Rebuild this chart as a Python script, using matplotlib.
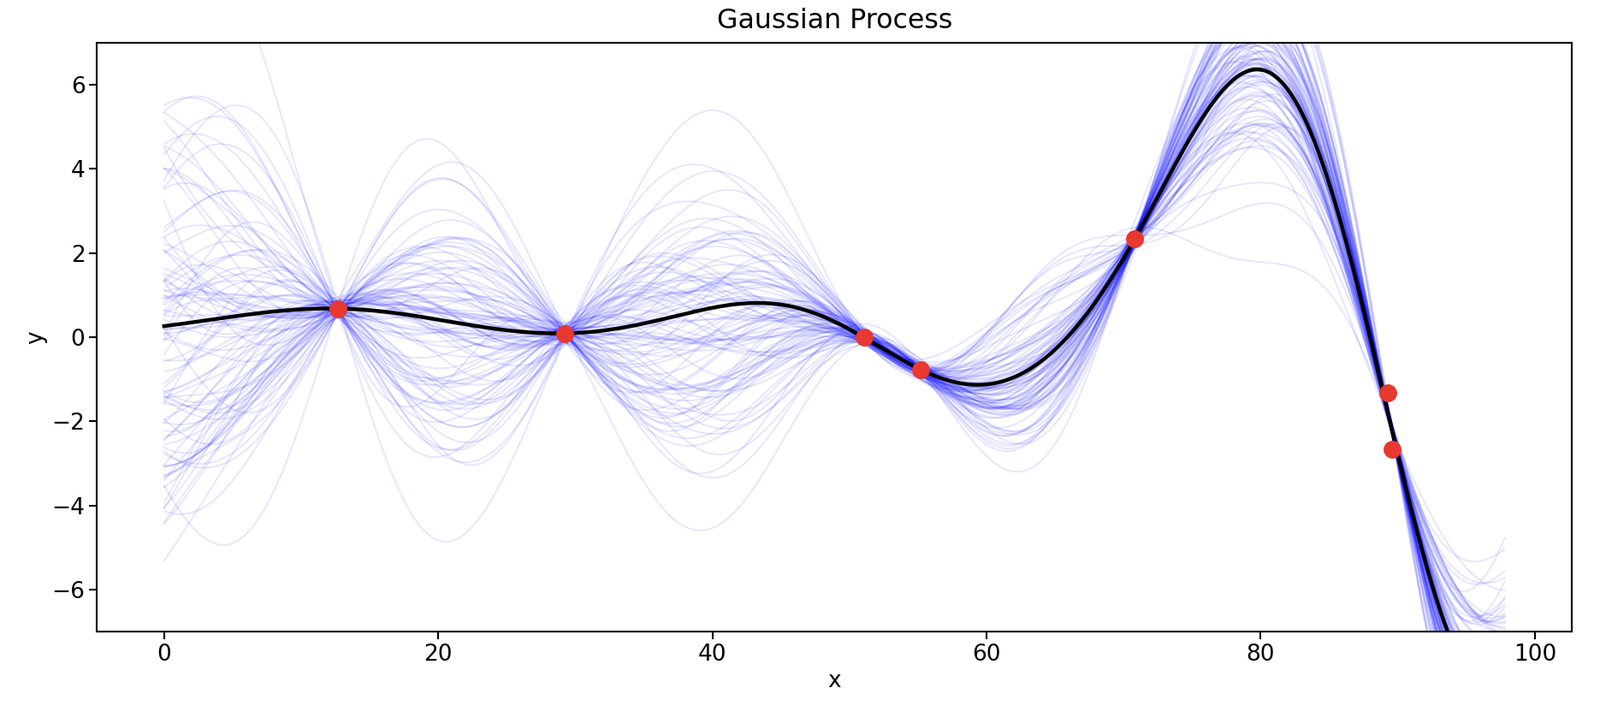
import matplotlib
matplotlib.use("Agg")

import matplotlib.pyplot as plt
import numpy as np

obs_x = [12.7, 29.25, 51.1, 55.2, 70.8, 89.25, 89.6]
obs_y = [0.68, 0.09, -0.01, -0.78, 2.33, -1.33, -2.67]

# GP settings (RBF kernel + small observation noise)
length_scale = 9.0
signal_std = 3.0
noise_std = 0.11
n_draws = 100
x_max = 97.8


def rbf(a, b):
    d = a[:, None] - b[None, :]
    return signal_std ** 2 * np.exp(-0.5 * (d / length_scale) ** 2)


X = np.array(obs_x)
Y = np.array(obs_y)
xs = np.linspace(0, x_max, 600)

K = rbf(X, X) + noise_std ** 2 * np.eye(len(X))
Ks = rbf(xs, X)
Kss = rbf(xs, xs)
K_inv = np.linalg.inv(K)
mu = Ks @ K_inv @ Y
cov = Kss - Ks @ K_inv @ Ks.T
cov = 0.5 * (cov + cov.T)

# posterior draws
w, v = np.linalg.eigh(cov)
L = v * np.sqrt(np.clip(w, 0, None))
rng = np.random.default_rng(7)
draws = mu[:, None] + L @ rng.standard_normal((len(xs), n_draws))

fig = plt.figure(figsize=(18.7, 8.32), dpi=100)
ax = fig.add_axes([0.0606, 0.113, 0.9218, 0.827])

ax.plot(xs, draws, color="blue", alpha=0.1, linewidth=1.4)
ax.plot(xs, mu, color="black", linewidth=3.2)
ax.plot(X, Y, "o", color="#e8382f", markersize=14, zorder=5)

ax.set_xlim(-4.9, 102.7)
ax.set_ylim(-7, 7)
ax.set_title("Gaussian Process", fontsize=22.8, pad=12)
ax.set_xlabel("x", fontsize=19)
ax.set_ylabel("y", fontsize=19)
ax.tick_params(labelsize=19, length=6.5, width=1.5)
for s in ax.spines.values():
    s.set_linewidth(1.5)

plt.savefig("out.png", dpi=100)
plt.close(fig)
